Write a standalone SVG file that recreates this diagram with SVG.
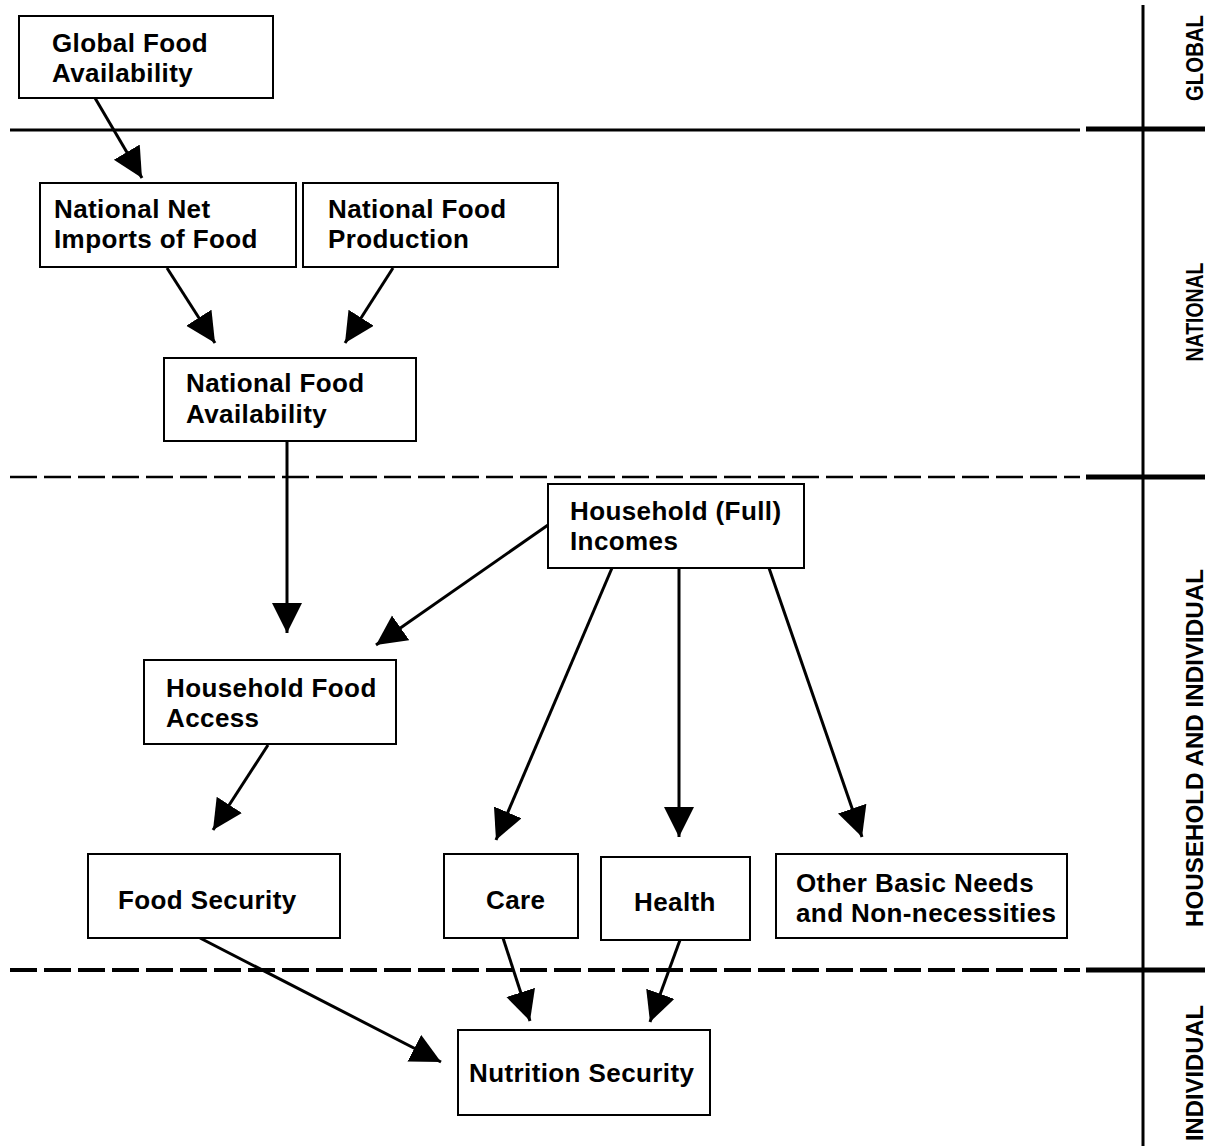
<svg xmlns="http://www.w3.org/2000/svg" width="1211" height="1146" viewBox="0 0 1211 1146">
<style>
.box{fill:#fff;stroke:#000;stroke-width:2}
.t{font-family:"Liberation Sans",Arial,sans-serif;font-weight:bold;font-size:26px;letter-spacing:0.4px;fill:#000}
.lab{font-family:"Liberation Sans",Arial,sans-serif;font-weight:bold;font-size:24px;fill:#000;text-anchor:middle}
.c{stroke:#000;stroke-width:3;fill:none;marker-end:url(#ah)}
.sep{stroke:#000;fill:none}
</style>
<defs>
<marker id="ah" markerUnits="userSpaceOnUse" markerWidth="32" markerHeight="32" refX="30" refY="15" orient="auto" viewBox="0 0 32 32">
<path d="M0,0 L30,15 L0,30 z" fill="#000"/>
</marker>
</defs>
<rect width="1211" height="1146" fill="#fff"/>
<g id="separators">
<line class="sep" x1="10" y1="130" x2="1080" y2="130" stroke-width="3"/>
<line class="sep" x1="10" y1="477" x2="1080" y2="477" stroke-width="2.5" stroke-dasharray="27 7"/>
<line class="sep" x1="10" y1="970" x2="1080" y2="970" stroke-width="4" stroke-dasharray="27 7"/>
<line class="sep" x1="1086" y1="129" x2="1205" y2="129" stroke-width="5"/>
<line class="sep" x1="1086" y1="477" x2="1205" y2="477" stroke-width="5"/>
<line class="sep" x1="1086" y1="970" x2="1205" y2="970" stroke-width="5"/>
<line class="sep" x1="1143" y1="5" x2="1143" y2="1146" stroke-width="3"/>
</g>
<g id="levels">
<text class="lab" transform="translate(1203,58) rotate(-90)" textLength="86" lengthAdjust="spacingAndGlyphs">GLOBAL</text>
<text class="lab" transform="translate(1203,312) rotate(-90)" textLength="99" lengthAdjust="spacingAndGlyphs">NATIONAL</text>
<text class="lab" transform="translate(1203,748) rotate(-90)" textLength="358" lengthAdjust="spacingAndGlyphs">HOUSEHOLD AND INDIVIDUAL</text>
<text class="lab" transform="translate(1203,1073) rotate(-90)" textLength="136" lengthAdjust="spacingAndGlyphs">INDIVIDUAL</text>
</g>
<g id="connectors">
<line class="c" x1="95" y1="98" x2="142" y2="178"/>
<line class="c" x1="167" y1="268" x2="215" y2="343"/>
<line class="c" x1="393" y1="268" x2="345" y2="343"/>
<line class="c" x1="287" y1="441" x2="287" y2="633" stroke-width="2"/>
<line class="c" x1="548" y1="525" x2="376" y2="645"/>
<line class="c" x1="612" y1="568" x2="496" y2="840"/>
<line class="c" x1="679" y1="568" x2="679" y2="837"/>
<line class="c" x1="769" y1="568" x2="862" y2="837"/>
<line class="c" x1="268" y1="745" x2="213" y2="830"/>
<line class="c" x1="200" y1="938" x2="441" y2="1062"/>
<line class="c" x1="503" y1="938" x2="530" y2="1021"/>
<line class="c" x1="680" y1="940" x2="650" y2="1022"/>
</g>
<g id="global-food-availability">
<rect class="box" x="19" y="16" width="254" height="82" stroke-width="3"/>
<text class="t" x="52" y="52">Global Food</text>
<text class="t" x="52" y="82">Availability</text>
</g>
<g id="national-net-imports">
<rect class="box" x="40" y="183" width="256" height="84"/>
<text class="t" x="54" y="218">National Net</text>
<text class="t" x="54" y="248">Imports of Food</text>
</g>
<g id="national-food-production">
<rect class="box" x="303" y="183" width="255" height="84"/>
<text class="t" x="328" y="218">National Food</text>
<text class="t" x="328" y="248">Production</text>
</g>
<g id="national-food-availability">
<rect class="box" x="164" y="358" width="252" height="83"/>
<text class="t" x="186" y="392">National Food</text>
<text class="t" x="186" y="423">Availability</text>
</g>
<g id="household-incomes">
<rect class="box" x="548" y="484" width="256" height="84"/>
<text class="t" x="570" y="520">Household (Full)</text>
<text class="t" x="570" y="550">Incomes</text>
</g>
<g id="household-food-access">
<rect class="box" x="144" y="660" width="252" height="84"/>
<text class="t" x="166" y="697">Household Food</text>
<text class="t" x="166" y="727">Access</text>
</g>
<g id="food-security">
<rect class="box" x="88" y="854" width="252" height="84"/>
<text class="t" x="118" y="909">Food Security</text>
</g>
<g id="care">
<rect class="box" x="444" y="854" width="134" height="84"/>
<text class="t" x="486" y="909">Care</text>
</g>
<g id="health">
<rect class="box" x="601" y="857" width="149" height="83"/>
<text class="t" x="634" y="911">Health</text>
</g>
<g id="other-basic-needs">
<rect class="box" x="776" y="854" width="291" height="84"/>
<text class="t" x="796" y="892">Other Basic Needs</text>
<text class="t" x="796" y="922">and Non-necessities</text>
</g>
<g id="nutrition-security">
<rect class="box" x="458" y="1030" width="252" height="85"/>
<text class="t" x="469" y="1082">Nutrition Security</text>
</g>
</svg>
